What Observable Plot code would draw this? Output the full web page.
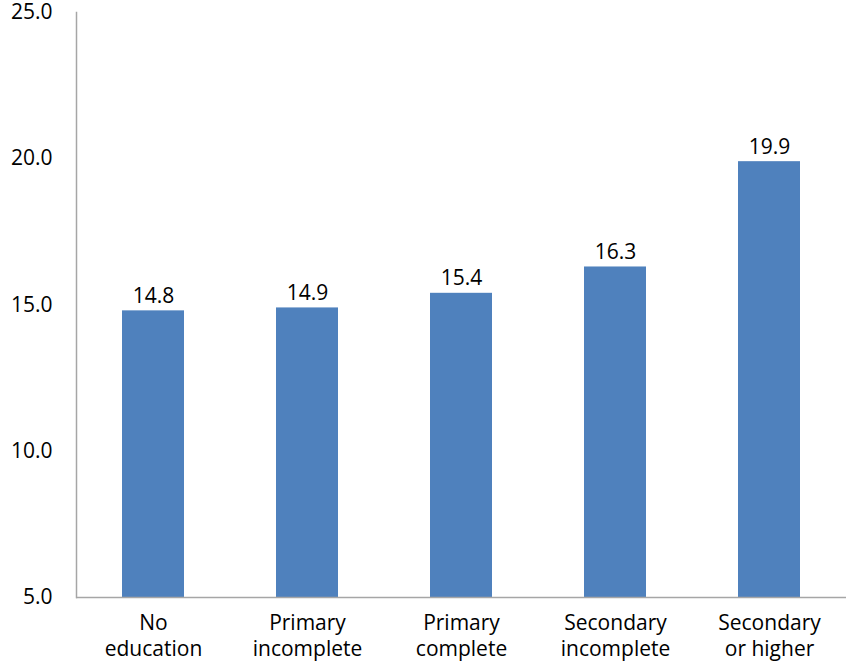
<!DOCTYPE html>
<html>
<head>
<meta charset="utf-8">
<script src="https://cdn.jsdelivr.net/npm/d3@7"></script>
<script src="https://cdn.jsdelivr.net/npm/@observablehq/plot@0.6"></script>
<style>
  html, body { margin: 0; padding: 0; background: #fff; }
  #chart svg { display: block; overflow: visible; }
</style>
</head>
<body>
<div id="chart"></div>
<script>
// Education level categories and the value for each
const categories = ["No education", "Primary incomplete", "Primary complete", "Secondary incomplete", "Secondary or higher"];
const labels = ["No\neducation", "Primary\nincomplete", "Primary\ncomplete", "Secondary\nincomplete", "Secondary\nor higher"];
const values = [14.8, 14.9, 15.4, 16.3, 19.9];
const yTicks = [5, 10, 15, 20, 25];

const data = categories.map((c, i) => ({category: c, value: values[i]}));
const labelOf = new Map(categories.map((c, i) => [c, labels[i]]));

const font = "'Open Sans', sans-serif";
const axisColor = "#a6a6a6";

const chart = Plot.plot({
  width: 846,
  height: 664,
  marginTop: 12,
  marginBottom: 67,
  marginLeft: 76,
  marginRight: 0,
  style: {fontFamily: font, fontSize: "21px", color: "#000", background: "#fff", overflow: "visible"},
  x: {domain: categories, paddingInner: 0.6, paddingOuter: 0.3, label: null},
  y: {domain: [5, 25], label: null},
  marks: [
    Plot.barY(data, {x: "category", y1: 5, y2: "value", fill: "#4f81bd"}),
    Plot.text(data, {x: "category", y: "value", text: d => d.value.toFixed(1), lineAnchor: "bottom", dy: -8, fontSize: 21, fill: "#000"}),
    Plot.axisY({ticks: yTicks, tickFormat: d => d.toFixed(1), tickSize: 0, tickPadding: 24, fontSize: 21, label: null}),
    Plot.axisX({tickSize: 0, tickPadding: 14, tickFormat: d => labelOf.get(d), lineHeight: 1.25, fontSize: 21, label: null}),
    Plot.ruleY([5], {stroke: axisColor, strokeWidth: 1.5}),
    Plot.frame({anchor: "left", stroke: axisColor, strokeWidth: 1.5})
  ]
});

document.getElementById("chart").appendChild(chart);
</script>
</body>
</html>
